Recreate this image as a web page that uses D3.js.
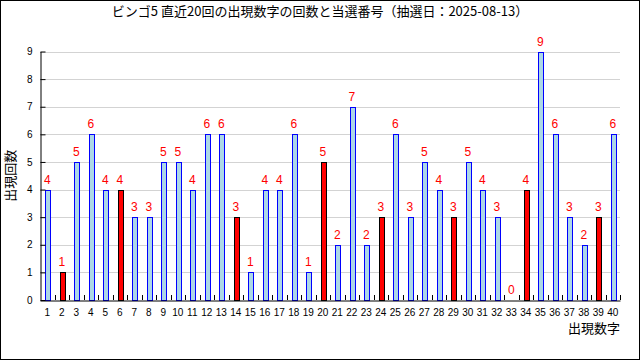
<!DOCTYPE html>
<html>
<head>
<meta charset="utf-8">
<script src="https://cdn.jsdelivr.net/npm/d3@7"></script>
<style>
  body { margin: 0; background: #fff; }
  svg { display: block; }
  text { font-family: "Liberation Sans", Arial, sans-serif; }
  .jp { font-family: "Noto Sans CJK JP", sans-serif; }
</style>
</head>
<body>
<div id="content"></div>
<script>
const w = 640
const h = 360

// 出現数字 1..40 と 直近20回の出現回数
const numbers = d3.range(1, 41)
const counts = [4, 1, 5, 6, 4, 4, 3, 3, 5, 5,
                4, 6, 6, 3, 1, 4, 4, 6, 1, 5,
                2, 7, 2, 3, 6, 3, 5, 4, 3, 5,
                4, 3, 0, 4, 9, 6, 3, 2, 3, 6]
// 当選番号（2025-08-13）
const winning = [2, 6, 14, 20, 24, 29, 34, 39]
const yTicks = [0, 1, 2, 3, 4, 5, 6, 7, 8, 9]

const title = "ビンゴ5 直近20回の出現数字の回数と当選番号（抽選日：2025-08-13）"

let dataset = numbers.map((n, i) => ({ n: n, count: counts[i], hit: winning.includes(n) }))

let svg = d3.select("#content")
  .append("svg")
  .attr("width", w)
  .attr("height", h)

svg.append("rect")
  .attr("x", 0.5).attr("y", 0.5)
  .attr("width", w - 1).attr("height", h - 1)
  .attr("fill", "#fff").attr("stroke", "#000")

const mLeft = 40, mRight = 620, mTop = 51.5, mBottom = 300

let x = d3.scaleBand()
  .domain(numbers)
  .range([mLeft, mRight])

let y = d3.scaleLinear()
  .domain([0, 9])
  .range([mBottom, mTop])

// grid
svg.append("g")
  .selectAll("line")
  .data(yTicks.slice(1))
  .enter()
  .append("line")
  .attr("x1", mLeft).attr("x2", mRight)
  .attr("y1", d => Math.round(y(d)) + 0.5)
  .attr("y2", d => Math.round(y(d)) + 0.5)
  .attr("stroke", "#d3d3d3")

// bars
svg.append("g")
  .selectAll("rect")
  .data(dataset)
  .enter()
  .append("rect")
  .attr("x", d => Math.round(x(d.n) + 5) + 0.5)
  .attr("y", d => Math.round(y(d.count)) + 0.5)
  .attr("width", 5)
  .attr("height", d => Math.max(0, Math.round(y(0)) - Math.round(y(d.count))))
  .attr("fill", d => d.hit ? "red" : "lightblue")
  .attr("stroke", d => d.hit ? "#000" : "blue")
  .attr("stroke-width", 1)

// value labels
svg.append("g")
  .selectAll("text")
  .data(dataset)
  .enter()
  .append("text")
  .attr("x", d => x(d.n) + x.bandwidth() / 2)
  .attr("y", d => y(d.count) - 6)
  .attr("text-anchor", "middle")
  .attr("font-size", 12)
  .attr("fill", "red")
  .text(d => d.count)

// axes
let xAxis = svg.append("g")
  .attr("transform", "translate(0," + (mBottom + 0.5) + ")")
  .call(d3.axisBottom(x).tickSize(0).tickPadding(8).tickSizeOuter(0))
xAxis.selectAll("text").attr("font-size", 10).attr("fill", "#000")
xAxis.select(".domain").attr("stroke", "#000")

// boundary ticks between numbers, pointing up
svg.append("g")
  .selectAll("line")
  .data(numbers.slice(1).concat(["end"]))
  .enter()
  .append("line")
  .attr("x1", d => Math.round(d === "end" ? mRight : x(d)) + 0.5)
  .attr("x2", d => Math.round(d === "end" ? mRight : x(d)) + 0.5)
  .attr("y1", mBottom - 5)
  .attr("y2", mBottom)
  .attr("stroke", "#000")

let yAxis = svg.append("g")
  .attr("transform", "translate(" + (mLeft + 0.5) + ",0)")
  .call(d3.axisLeft(y).tickValues(yTicks).tickFormat(d3.format("d")).tickSize(-5).tickPadding(8).tickSizeOuter(0))
yAxis.selectAll("text").attr("font-size", 10).attr("fill", "#000")
yAxis.selectAll(".tick line").attr("stroke", "#000")
yAxis.select(".domain").attr("stroke", "#000")

// titles
svg.append("text")
  .attr("class", "jp")
  .attr("x", w / 2)
  .attr("y", 16)
  .attr("text-anchor", "middle")
  .attr("font-size", 13)
  .text(title)

svg.append("text")
  .attr("class", "jp")
  .attr("transform", "translate(15," + ((mTop + mBottom) / 2) + ") rotate(-90)")
  .attr("text-anchor", "middle")
  .attr("font-size", 13)
  .text("出現回数")

svg.append("text")
  .attr("class", "jp")
  .attr("x", mRight)
  .attr("y", 333)
  .attr("text-anchor", "end")
  .attr("font-size", 13)
  .text("出現数字")
</script>
</body>
</html>
